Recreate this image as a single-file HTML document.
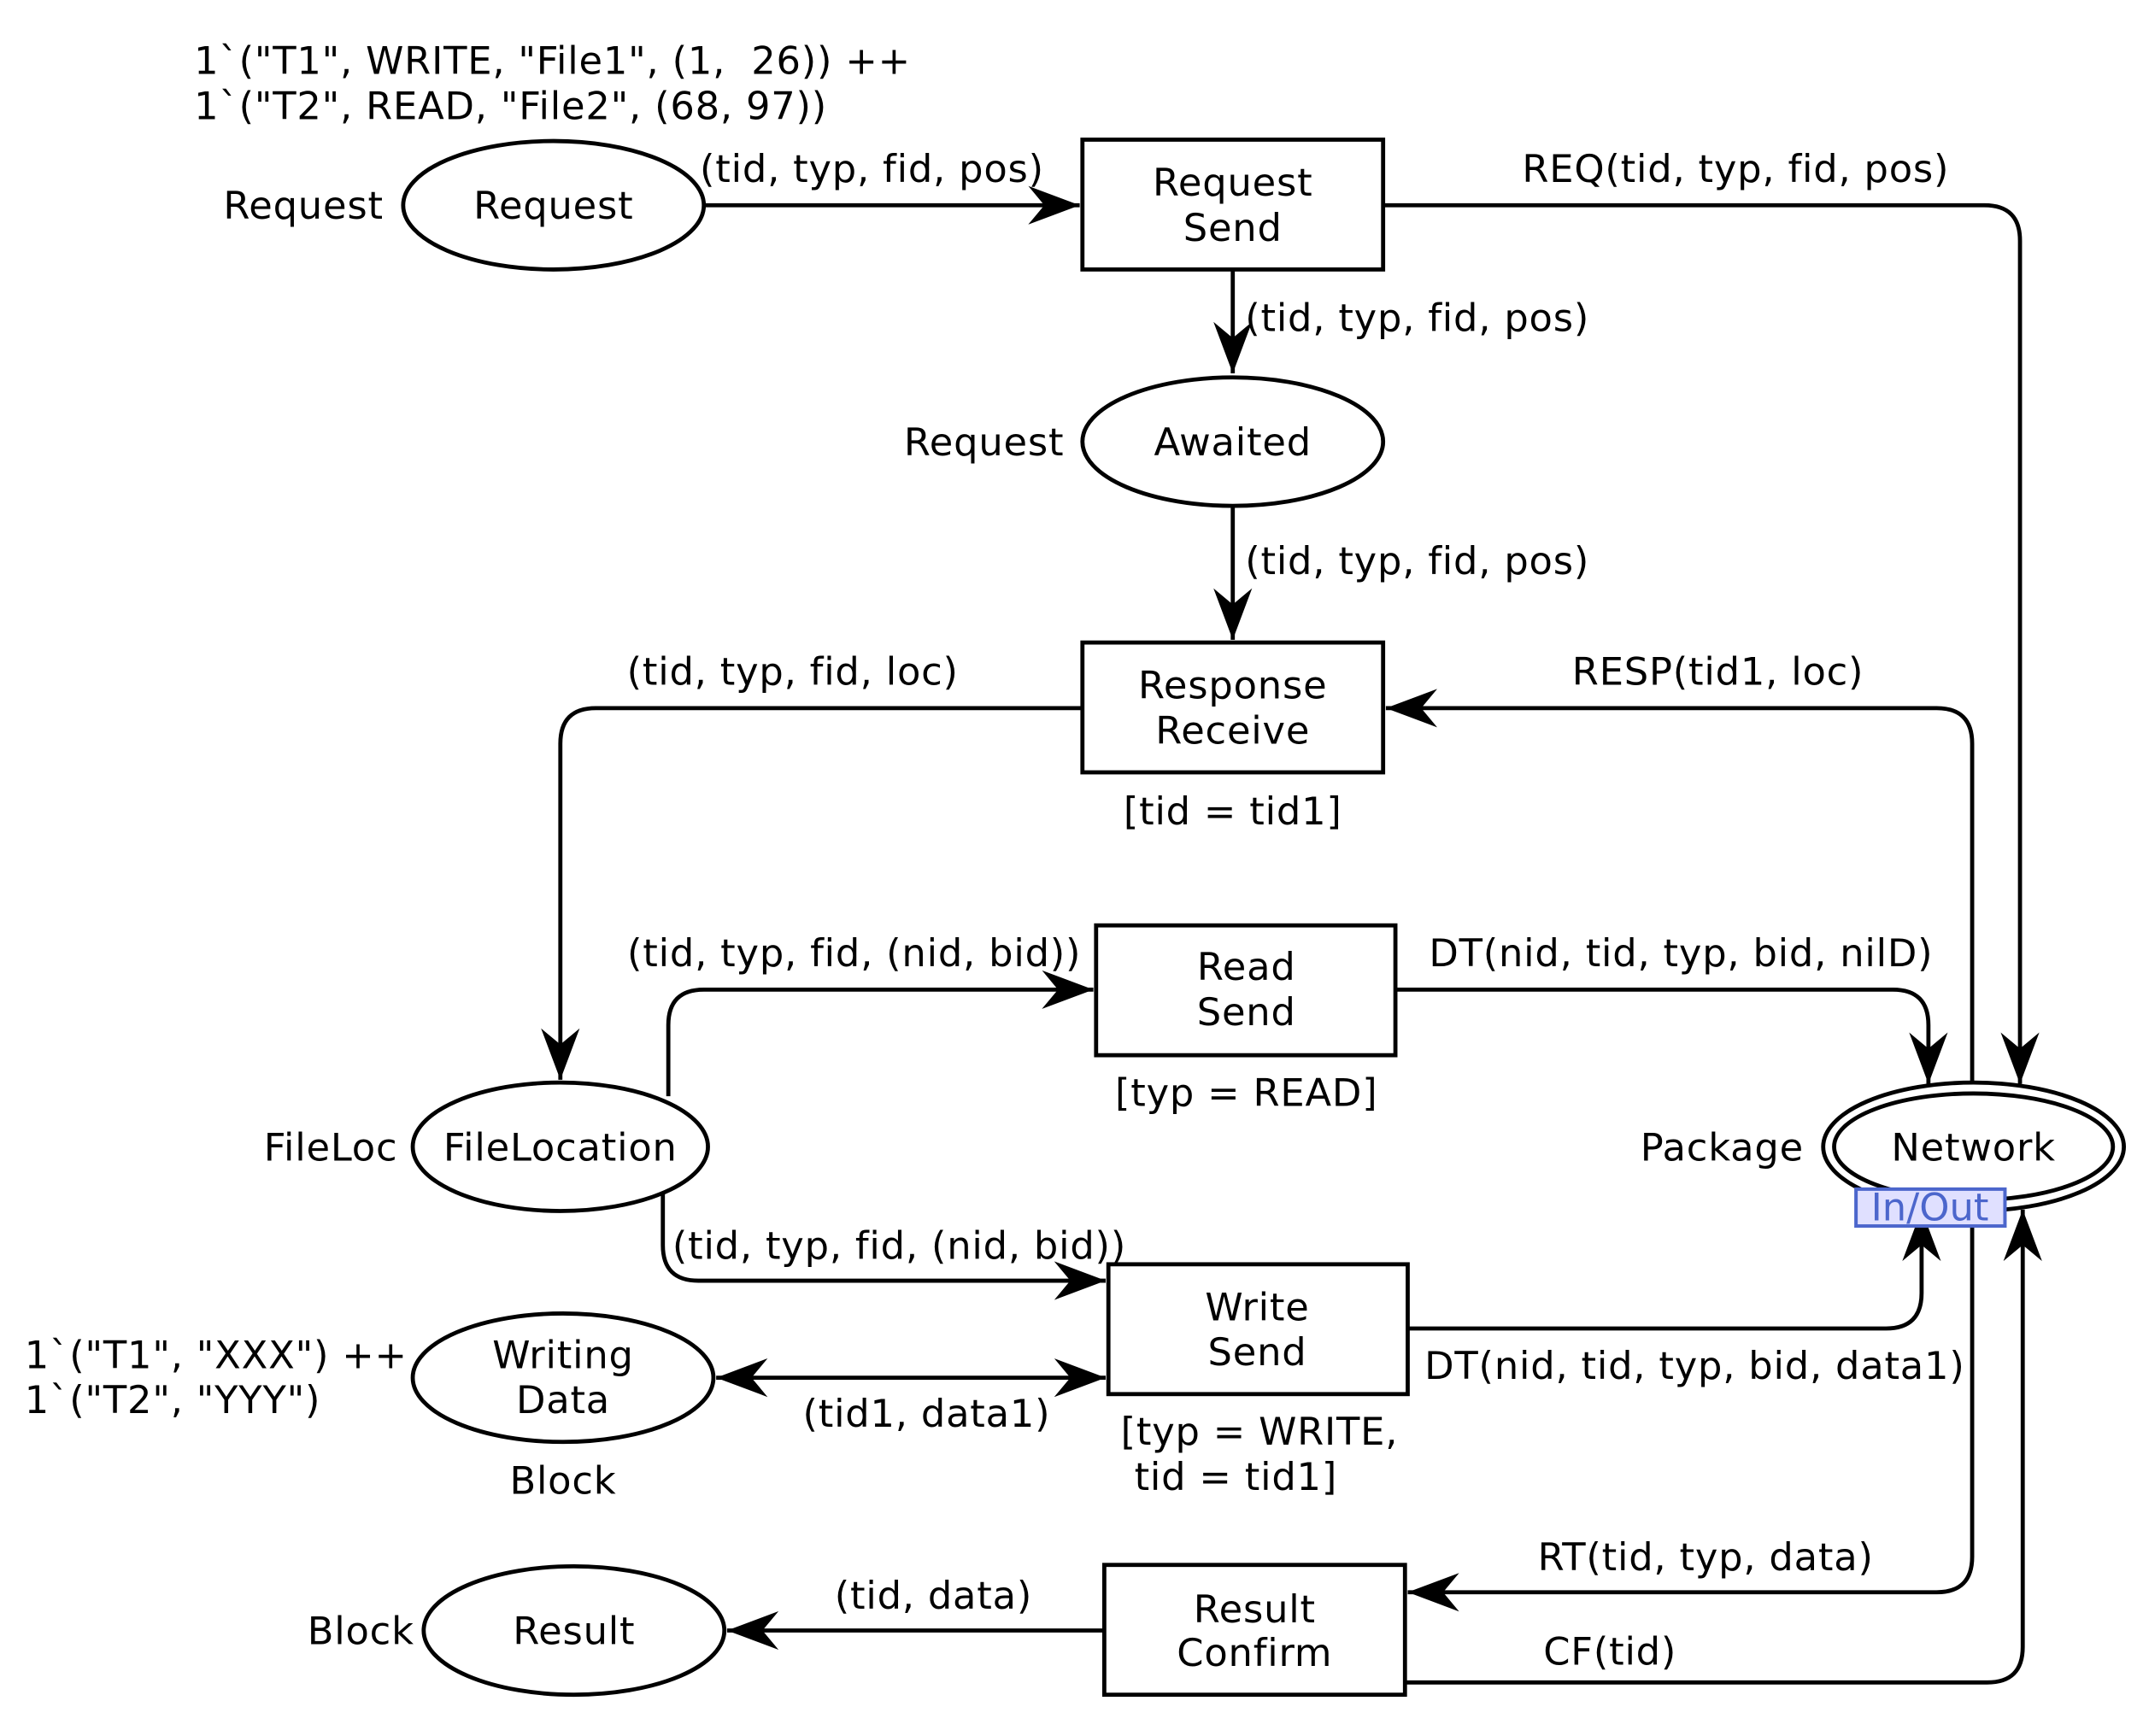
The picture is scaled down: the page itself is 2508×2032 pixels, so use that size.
<!DOCTYPE html>
<html><head><meta charset="utf-8"><style>
html,body{margin:0;padding:0;background:#fff}
svg{display:block}
text{font-family:"DejaVu Sans","Liberation Sans",sans-serif;font-size:28px;letter-spacing:0.5px;fill:#000;white-space:pre}
</style></head><body>
<svg width="2508" height="2032" viewBox="0 0 1568 1270" xmlns="http://www.w3.org/2000/svg">
<defs>
<marker id="a" markerUnits="userSpaceOnUse" markerWidth="40" markerHeight="40" refX="0" refY="0" viewBox="-32 -16 34 32" orient="auto">
<path d="M0,0 L-32,-12 L-22,0 L-32,12 Z" fill="#000"/>
</marker>
<marker id="s" markerUnits="userSpaceOnUse" markerWidth="40" markerHeight="40" refX="0" refY="0" viewBox="-32 -16 34 32" orient="auto-start-reverse">
<path d="M0,0 L-32,-12 L-22,0 L-32,12 Z" fill="#000"/>
</marker>
</defs>
<g fill="none" stroke="#000" stroke-width="3">
<ellipse cx="405" cy="150" rx="110" ry="47"/>
<ellipse cx="902" cy="323" rx="110" ry="47"/>
<ellipse cx="410" cy="839" rx="108" ry="47"/>
<ellipse cx="412" cy="1008" rx="110" ry="47"/>
<ellipse cx="420" cy="1193" rx="110" ry="47"/>
<ellipse cx="1444" cy="839" rx="110" ry="47"/>
<ellipse cx="1444" cy="839" rx="102" ry="39"/>
<rect x="792" y="102" width="220" height="95"/>
<rect x="792" y="470" width="220" height="95"/>
<rect x="802" y="677" width="219" height="95"/>
<rect x="811" y="925" width="219" height="95"/>
<rect x="808" y="1145" width="220" height="95"/>
<path d="M515,150 H790" marker-end="url(#a)"/>
<path d="M1012,150 H1452 Q1478,150 1478,176 V793" marker-end="url(#a)"/>
<path d="M902,197 V273" marker-end="url(#a)"/>
<path d="M902,370 V468" marker-end="url(#a)"/>
<path d="M1443,792 V544 Q1443,518 1417,518 H1014" marker-end="url(#a)"/>
<path d="M792,518 H436 Q410,518 410,544 V790" marker-end="url(#a)"/>
<path d="M489,802 V750 Q489,724 515,724 H800" marker-end="url(#a)"/>
<path d="M1021,724 H1385 Q1411,724 1411,750 V793" marker-end="url(#a)"/>
<path d="M485,873 V911 Q485,937 511,937 H809" marker-end="url(#a)"/>
<path d="M1030,972 H1380 Q1406,972 1406,946 V885" marker-end="url(#a)"/>
<path d="M524,1008 H809" marker-start="url(#s)" marker-end="url(#a)"/>
<path d="M1443,886 V1139 Q1443,1165 1417,1165 H1030" marker-end="url(#a)"/>
<path d="M1028,1231 H1454 Q1480,1231 1480,1205 V885" marker-end="url(#a)"/>
<path d="M808,1193 H532" marker-end="url(#a)"/>
</g>
<rect x="1358" y="870" width="109" height="27" fill="#e0e0ff" stroke="#4c66cc" stroke-width="2.5"/>
<text x="1412" y="893" text-anchor="middle" style="fill:#4c66cc;letter-spacing:0">In/Out</text>
<g>
<text x="142" y="54">1`("T1", WRITE, "File1", (1,  26)) ++</text>
<text x="142" y="87">1`("T2", READ, "File2", (68, 97))</text>
<text x="18" y="1001">1`("T1", "XXX") ++</text>
<text x="18" y="1034">1`("T2", "YYY")</text>
</g>
<g text-anchor="middle">
<text x="405" y="160">Request</text>
<text x="222" y="160">Request</text>
<text x="902" y="143">Request</text>
<text x="902" y="176">Send</text>
<text x="638" y="133">(tid, typ, fid, pos)</text>
<text x="1270" y="133">REQ(tid, typ, fid, pos)</text>
<text x="1037" y="242">(tid, typ, fid, pos)</text>
<text x="902" y="333">Awaited</text>
<text x="720" y="333">Request</text>
<text x="1037" y="420">(tid, typ, fid, pos)</text>
<text x="902" y="511">Response</text>
<text x="902" y="544">Receive</text>
<text x="902" y="603">[tid = tid1]</text>
<text x="1257" y="501">RESP(tid1, loc)</text>
<text x="580" y="501">(tid, typ, fid, loc)</text>
<text x="410" y="849">FileLocation</text>
<text x="242" y="849">FileLoc</text>
<text x="912" y="717">Read</text>
<text x="912" y="750">Send</text>
<text x="912" y="809">[typ = READ]</text>
<text x="625" y="707">(tid, typ, fid, (nid, bid))</text>
<text x="1230" y="707">DT(nid, tid, typ, bid, nilD)</text>
<text x="1444" y="849">Network</text>
<text x="1260" y="849">Package</text>
<text x="658" y="921">(tid, typ, fid, (nid, bid))</text>
<text x="920" y="966">Write</text>
<text x="920" y="999">Send</text>
<text x="1240" y="1009">DT(nid, tid, typ, bid, data1)</text>
<text x="412" y="1001">Writing</text>
<text x="412" y="1034">Data</text>
<text x="412" y="1093">Block</text>
<text x="678" y="1044">(tid1, data1)</text>
<text x="918" y="1187">Result</text>
<text x="918" y="1219">Confirm</text>
<text x="1248" y="1149">RT(tid, typ, data)</text>
<text x="1178" y="1218">CF(tid)</text>
<text x="420" y="1203">Result</text>
<text x="264" y="1203">Block</text>
<text x="683" y="1177">(tid, data)</text>
</g>
<text x="820" y="1057">[typ = WRITE,</text>
<text x="830" y="1090">tid = tid1]</text>
</svg>
</body></html>
